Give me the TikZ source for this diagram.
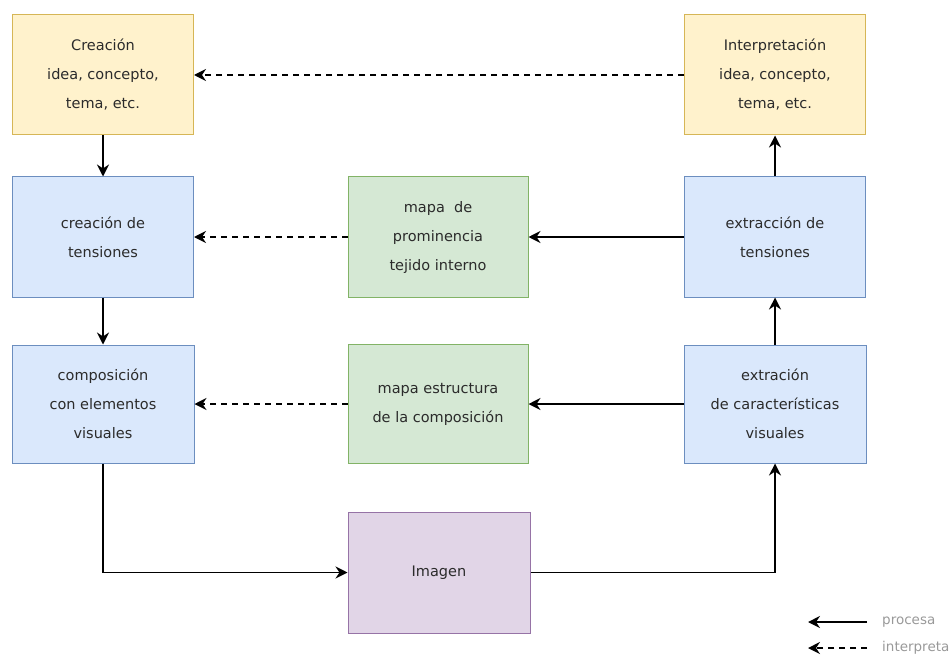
\documentclass[tikz,border=0pt]{standalone}
\usepackage{fontspec}
\setmainfont{DejaVu Sans}
\usetikzlibrary{arrows.meta}

\definecolor{amarilloF}{HTML}{FFF2CC}
\definecolor{amarilloB}{HTML}{D6B656}
\definecolor{azulF}{HTML}{DAE8FC}
\definecolor{azulB}{HTML}{6C8EBF}
\definecolor{verdeF}{HTML}{D5E8D4}
\definecolor{verdeB}{HTML}{82B366}
\definecolor{moradoF}{HTML}{E1D5E7}
\definecolor{moradoB}{HTML}{9673A6}
\definecolor{texto}{HTML}{2B2B2B}
\definecolor{leyenda}{HTML}{999999}

\tikzset{
  caja/.style={rectangle,draw,line width=1pt,minimum width=181pt,minimum height=120pt,
    inner sep=0pt,align=center,text=texto,font=\fontsize{14.5}{29}\selectfont},
  idea/.style={caja,fill=amarilloF,draw=amarilloB},
  paso/.style={caja,fill=azulF,draw=azulB},
  mapa/.style={caja,fill=verdeF,draw=verdeB},
  imagen/.style={caja,fill=moradoF,draw=moradoB},
  proc/.style={draw,line width=1.4pt,-{Stealth[length=12pt,width=12pt,inset=4pt]}},
  interp/.style={proc,dash pattern=on 6pt off 5pt},
}

\begin{document}
\begin{tikzpicture}[x=1pt,y=1pt]
\useasboundingbox (0,0) rectangle (952,-655);
% cajas
\node[idea] (crea) at (103,-75) {Creación\\idea, concepto,\\tema, etc.};
\node[idea] (inte) at (775,-75) {Interpretación\\idea, concepto,\\tema, etc.};
\node[paso] (creaT) at (103,-237) {creación de\\tensiones};
\node[mapa,minimum width=180pt] (mapaP) at (438,-237) {mapa\ \ de\\prominencia\\tejido interno};
\node[paso] (extT) at (775,-237) {extracción de\\tensiones};
\node[paso,minimum width=182pt,minimum height=118pt] (comp) at (103,-404) {composición\\con elementos\\visuales};
\node[mapa,minimum width=180pt,minimum height=119pt] (mapaE) at (438,-404) {mapa estructura\\de la composición};
\node[paso,minimum width=182pt,minimum height=118pt] (extC) at (775,-404) {extración\\de características\\visuales};
\node[imagen,minimum width=182pt,minimum height=121pt] (img) at (439,-572.5) {Imagen};
% flechas
\path[proc] (crea) -- (creaT);
\path[proc] (creaT) -- (comp);
\path[proc] (comp.south) |- (img.west);
\path[proc] (img.east) -| (extC.south);
\path[proc] (extC) -- (extT);
\path[proc] (extT) -- (inte);
\path[proc] (extT) -- (mapaP);
\path[proc] (extC) -- (mapaE);
\path[interp] (inte) -- (crea);
\path[interp] (mapaP) -- (creaT);
\path[interp] (mapaE) -- (comp);
% leyenda
\coordinate (procA) at (867,-622);
\coordinate (procB) at (808,-622);
\coordinate (intA) at (867,-648);
\coordinate (intB) at (808,-648);
\path[proc] (procA) -- (procB);
\path[interp] (intA) -- (intB);
\node[anchor=west,text=leyenda,font=\fontsize{13.5}{15}\selectfont,inner sep=0pt] (procT) at (882,-622) {procesa};
\node[anchor=west,text=leyenda,font=\fontsize{13.5}{15}\selectfont,inner sep=0pt] (intT) at (882,-648) {interpreta};
\end{tikzpicture}
\end{document}
